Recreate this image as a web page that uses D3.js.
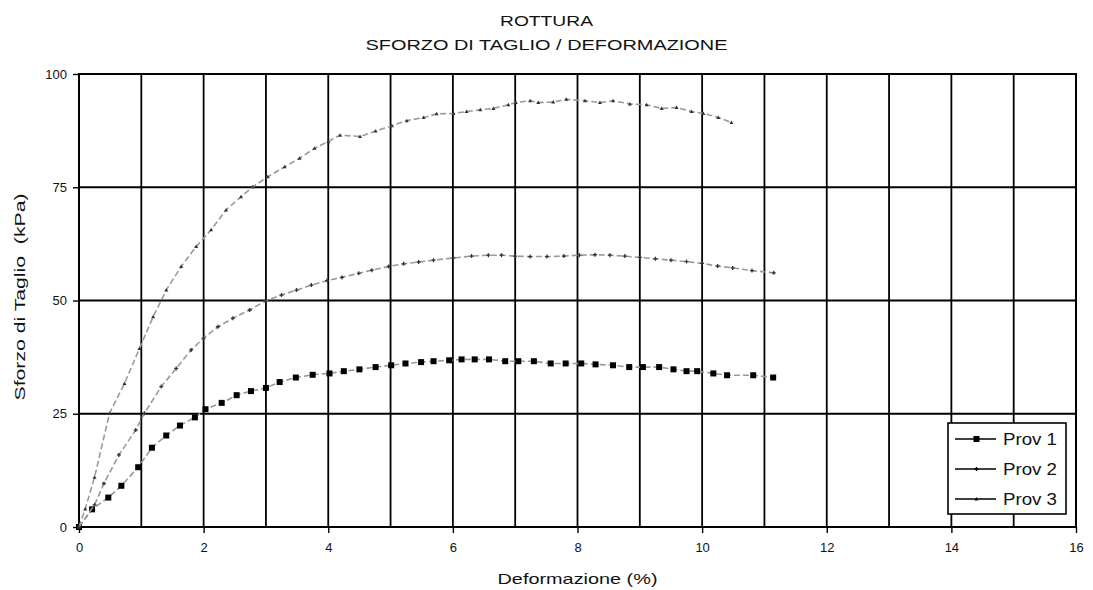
<!DOCTYPE html>
<html>
<head>
<meta charset="utf-8">
<script src="https://cdn.jsdelivr.net/npm/d3@7/dist/d3.min.js"></script>
<style>
  body { margin: 0; background: #fff; }
  svg { display: block; font-family: "Liberation Sans", Arial, sans-serif; }
</style>
</head>
<body>
<svg id="chart" width="1093" height="590"></svg>
<script>
// Shear test results: shear stress (kPa) against deformation (%)
const titleLines = ["ROTTURA", "SFORZO DI TAGLIO / DEFORMAZIONE"];
const xLabel = "Deformazione (%)";
const yLabel = "Sforzo di Taglio  (kPa)";
const xTicks = [0, 2, 4, 6, 8, 10, 12, 14, 16];
const yTicks = [0, 25, 50, 75, 100];
const seriesNames = ["Prov 1", "Prov 2", "Prov 3"];

const prov1X = [0, 0.21, 0.47, 0.68, 0.95, 1.17, 1.40, 1.62, 1.86, 2.03, 2.29, 2.53, 2.76, 3.00, 3.22, 3.48,
  3.75, 4.02, 4.25, 4.50, 4.76, 5.01, 5.24, 5.49, 5.69, 5.94, 6.14, 6.35, 6.58, 6.84, 7.05, 7.30, 7.57,
  7.81, 8.06, 8.29, 8.57, 8.83, 9.05, 9.31, 9.54, 9.75, 9.92, 10.18, 10.40, 10.82, 11.14];
const prov1Y = [0, 3.9, 6.5, 9.1, 13.2, 17.5, 20.2, 22.4, 24.2, 26.0, 27.4, 29.1, 30.0, 30.7, 32.0, 33.0,
  33.6, 33.9, 34.4, 34.8, 35.3, 35.7, 36.1, 36.4, 36.6, 36.8, 37.0, 37.0, 37.0, 36.6, 36.6, 36.6, 36.1,
  36.1, 36.1, 35.9, 35.7, 35.3, 35.3, 35.3, 34.8, 34.4, 34.4, 33.9, 33.5, 33.5, 33.0];

const prov2X = [0, 0.25, 0.40, 0.64, 0.91, 1.05, 1.32, 1.56, 1.80, 2.00, 2.23, 2.47, 2.74, 2.99, 3.25, 3.49,
  3.73, 3.98, 4.22, 4.49, 4.70, 4.97, 5.21, 5.45, 5.69, 6.01, 6.30, 6.57, 6.78, 7.00, 7.24, 7.51, 7.78,
  8.03, 8.28, 8.52, 8.76, 9.00, 9.25, 9.50, 9.75, 10.00, 10.25, 10.49, 10.80, 11.15];
const prov2Y = [0, 4.9, 9.6, 15.9, 21.4, 25.1, 31.0, 35.0, 39.1, 41.7, 44.2, 46.1, 47.9, 49.9, 51.2, 52.3,
  53.4, 54.4, 55.1, 56.0, 56.7, 57.5, 58.1, 58.5, 58.9, 59.4, 59.8, 60.0, 60.0, 59.8, 59.7, 59.7, 59.8,
  60.0, 60.1, 60.0, 59.8, 59.5, 59.2, 58.9, 58.6, 58.2, 57.6, 57.2, 56.6, 56.1];

const prov3X = [0, 0.10, 0.25, 0.49, 0.73, 0.97, 1.19, 1.40, 1.64, 1.88, 2.12, 2.36, 2.60, 2.79, 3.03, 3.30,
  3.54, 3.78, 4.00, 4.19, 4.51, 4.76, 5.02, 5.26, 5.53, 5.74, 6.01, 6.22, 6.44, 6.65, 6.89, 7.01, 7.24,
  7.37, 7.61, 7.82, 8.12, 8.36, 8.57, 8.84, 9.11, 9.35, 9.59, 9.83, 10.02, 10.26, 10.47];
const prov3Y = [0, 4.0, 11.0, 25.1, 31.7, 39.4, 46.4, 52.3, 57.5, 61.9, 65.6, 70.0, 72.9, 75.1, 77.3, 79.5,
  81.4, 83.6, 85.1, 86.5, 86.2, 87.4, 88.6, 89.7, 90.4, 91.2, 91.3, 91.7, 92.1, 92.4, 93.2, 93.7, 94.1,
  93.7, 93.8, 94.4, 94.1, 93.7, 94.1, 93.4, 93.2, 92.4, 92.6, 91.7, 91.3, 90.4, 89.3];

const series = [
  { name: seriesNames[0], xs: prov1X, ys: prov1Y, marker: "square" },
  { name: seriesNames[1], xs: prov2X, ys: prov2Y, marker: "plus" },
  { name: seriesNames[2], xs: prov3X, ys: prov3Y, marker: "triangle" }
];

const svg = d3.select("#chart");
const plotLeft = 79, plotRight = 1076, plotTop = 74, plotBottom = 527;

const x = d3.scaleLinear().domain([0, 16]).range([plotLeft, plotRight]);
const y = d3.scaleLinear().domain([0, 100]).range([plotBottom, plotTop]);

// Wide-set lettering: stretch a text element to a given run length
function widen(sel, len) {
  sel.attr("textLength", len).attr("lengthAdjust", "spacingAndGlyphs");
}

// Title
const titleWidths = [93, 362];
svg.append("g").selectAll("text").data(titleLines).join("text")
  .attr("x", 546.5).attr("y", (d, i) => 26 + i * 23.5)
  .attr("text-anchor", "middle").attr("font-size", 15).attr("fill", "#111")
  .text(d => d)
  .each(function (d, i) { widen(d3.select(this), titleWidths[i]); });

// Grid: vertical line at every unit of deformation, horizontal at each y tick
const grid = svg.append("g").attr("stroke", "#000").attr("stroke-width", 1.8);
grid.selectAll("line.v").data(d3.range(1, 16)).join("line").attr("class", "v")
  .attr("x1", d => x(d)).attr("x2", d => x(d)).attr("y1", plotTop).attr("y2", plotBottom);
grid.selectAll("line.h").data(yTicks.slice(1, -1)).join("line").attr("class", "h")
  .attr("x1", plotLeft).attr("x2", plotRight).attr("y1", d => y(d)).attr("y2", d => y(d));
svg.append("rect").attr("x", plotLeft).attr("y", plotTop)
  .attr("width", plotRight - plotLeft).attr("height", plotBottom - plotTop)
  .attr("fill", "none").attr("stroke", "#000").attr("stroke-width", 2);

// Axes
const xAxis = svg.append("g").attr("transform", `translate(0,${plotBottom})`)
  .call(d3.axisBottom(x).tickValues(xTicks).tickSize(6).tickPadding(10).tickFormat(d3.format("d")));
const yAxis = svg.append("g").attr("transform", `translate(${plotLeft},0)`)
  .call(d3.axisLeft(y).tickValues(yTicks).tickSize(6).tickPadding(6).tickFormat(d3.format("d")));
[xAxis, yAxis].forEach(a => {
  a.select(".domain").remove();
  a.selectAll(".tick line").attr("stroke", "#000").attr("stroke-width", 1.4);
  a.selectAll(".tick text").attr("font-size", 13).attr("fill", "#111")
    .attr("font-family", "'Liberation Sans', Arial, sans-serif");
});

// Axis titles
svg.append("text").attr("x", (plotLeft + plotRight) / 2).attr("y", 584)
  .attr("text-anchor", "middle").attr("font-size", 15).attr("fill", "#111").text(xLabel)
  .call(widen, 160);
svg.append("text").attr("transform", "translate(25,297) rotate(-90)")
  .attr("text-anchor", "middle").attr("font-size", 15).attr("fill", "#111")
  .style("white-space", "pre").text(yLabel)
  .call(widen, 207);

// Curves
const line = d3.line().x(d => x(d[0])).y(d => y(d[1]));

function drawMarker(g, type, dark) {
  if (type === "square") {
    g.append("rect").attr("x", -3).attr("y", -3).attr("width", 6).attr("height", 6).attr("fill", "#000");
  } else if (type === "plus") {
    g.append("path").attr("d", "M-2,0H2M0,-2V2").attr("stroke", dark).attr("stroke-width", 1.3);
  } else {
    g.append("path").attr("d", "M0,-2L2,1.5H-2Z").attr("fill", dark);
  }
}

series.forEach(s => {
  const pts = s.xs.map((v, i) => [v, s.ys[i]]);
  const g = svg.append("g");
  g.append("path").datum(pts).attr("d", line)
    .attr("fill", "none").attr("stroke", "#9a9a9a").attr("stroke-width", 1.6)
    .attr("stroke-dasharray", "6,3");
  g.selectAll("g.m").data(pts).join("g").attr("class", "m")
    .attr("transform", d => `translate(${x(d[0])},${y(d[1])})`)
    .each(function () { drawMarker(d3.select(this), s.marker, "#333"); });
});

// Legend
const legend = svg.append("g").attr("transform", "translate(948,423)");
legend.append("rect").attr("width", 118).attr("height", 91)
  .attr("fill", "#fff").attr("stroke", "#000").attr("stroke-width", 1.6);
series.forEach((s, i) => {
  const row = legend.append("g").attr("transform", `translate(0,${16 + i * 30})`);
  row.append("line").attr("x1", 7).attr("x2", 48).attr("y1", 0).attr("y2", 0)
    .attr("stroke", "#000").attr("stroke-width", 1.3);
  const m = row.append("g").attr("transform", "translate(28.5,0)");
  drawMarker(m, s.marker, "#000");
  row.append("text").attr("x", 55).attr("y", 6).attr("font-size", 16).attr("fill", "#111")
    .text(s.name).call(widen, 54);
});
</script>
</body>
</html>
